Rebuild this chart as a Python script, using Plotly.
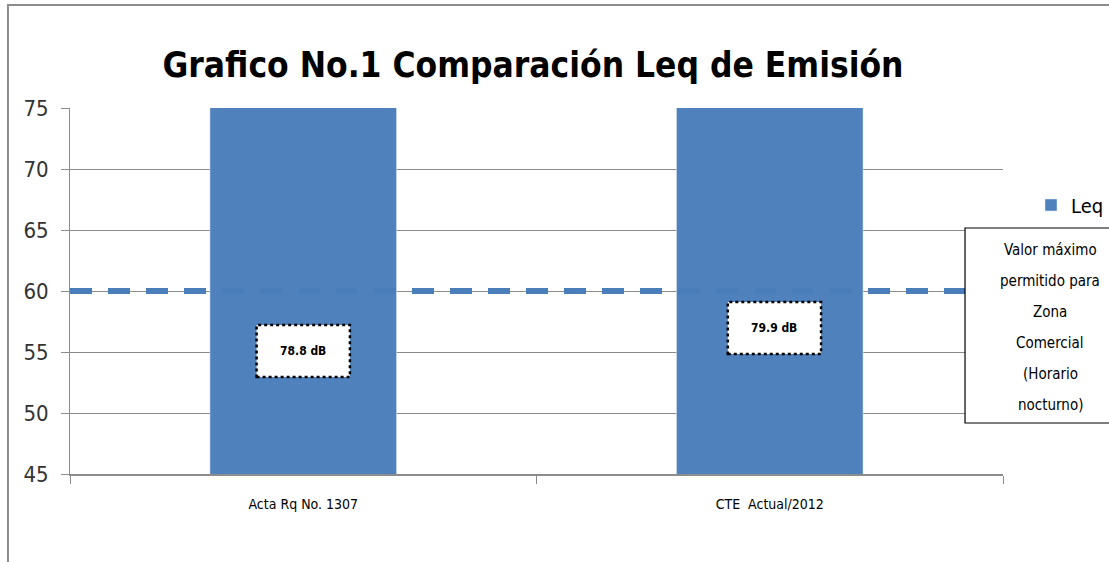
import plotly.graph_objects as go

categories = ["Acta Rq No. 1307", "CTE  Actual/2012"]
leq_values = [78.8, 79.9]
label_texts = ["78.8 dB", "79.9 dB"]
limit_value = 60
limit_note = ["Valor máximo", "permitido para", "Zona", "Comercial", "(Horario", "nocturno)"]
y_ticks = [45, 50, 55, 60, 65, 70, 75]

FONT = "DejaVu Sans Condensed, Liberation Sans, sans-serif"
BLUE = "#4F81BD"

fig = go.Figure()
fig.add_trace(go.Bar(x=categories, y=leq_values, name="Leq", marker_color=BLUE,
                     width=0.4, showlegend=True, hoverinfo="skip"))

label_y = [(52.95, 57.21), (54.84, 59.10)]
label_dx = [0.0, 0.01]
shapes = []
annotations = []
for i, (txt, (y0, y1), dx) in enumerate(zip(label_texts, label_y, label_dx)):
    shapes.append(dict(type="rect", xref="x", yref="y", x0=i + dx - 0.1, x1=i + dx + 0.1,
                       y0=y0, y1=y1, fillcolor="white",
                       line=dict(color="black", width=2.5, dash="dot"), layer="above"))
    annotations.append(dict(x=i + dx, y=(y0 + y1) / 2, xref="x", yref="y", text="<b>" + txt + "</b>",
                            showarrow=False, font=dict(family=FONT, size=12, color="black")))

shapes.append(dict(type="line", xref="paper", yref="y", x0=0, x1=1, y0=limit_value, y1=limit_value,
                   line=dict(color="#4A7EBB", width=6, dash="22px,16px"), layer="above"))

bx0, bx1, by0, by1 = 0.9593, 1.1415, 0.1393, 0.6721
shapes.append(dict(type="rect", xref="paper", yref="paper", x0=bx0, x1=bx1, y0=by0, y1=by1,
                   fillcolor="white", line=dict(color="black", width=1.2), layer="above"))
line_step = 31 / 366
top_line_y = (474 - 250) / 366
for k, line in enumerate(limit_note):
    annotations.append(dict(x=(bx0 + bx1) / 2, y=top_line_y - k * line_step, xref="paper", yref="paper",
                            text=line, showarrow=False, xanchor="center", yanchor="middle",
                            font=dict(family=FONT, size=15, color="black")))

shapes.append(dict(type="rect", xref="paper", yref="paper", x0=-0.0665, x1=1.2, y0=-0.4, y1=1.2814,
                   line=dict(color="#8c8c8c", width=2), fillcolor="rgba(0,0,0,0)", layer="above"))

fig.update_layout(
    width=1109, height=562,
    margin=dict(l=70, r=106, t=108, b=88, autoexpand=False),
    paper_bgcolor="white", plot_bgcolor="white",
    title=dict(text="<b>Grafico No.1 Comparación Leq de Emisión</b>", x=0.4806, xanchor="center",
               y=0.885, yanchor="middle", font=dict(family=FONT, size=35, color="black")),
    font=dict(family=FONT, color="black"),
    shapes=shapes, annotations=annotations,
    legend=dict(x=1.03, y=0.735, xanchor="left", yanchor="middle", font=dict(family=FONT, size=20),
                bgcolor="rgba(0,0,0,0)", itemwidth=30),
)
fig.update_yaxes(range=[45, 75], tickvals=y_ticks, showgrid=True, gridcolor="#8c8c8c", gridwidth=1,
                 showline=True, linecolor="#8c8c8c", ticks="outside", ticklen=8, tickcolor="#8c8c8c",
                 ticklabelstandoff=8,
                 tickfont=dict(family=FONT, size=22, color="#333333"), zeroline=False)
fig.update_xaxes(showline=True, linecolor="#8c8c8c", linewidth=1.5, ticks="outside", ticklen=8,
                 tickcolor="#8c8c8c", tickson="boundaries", ticklabelstandoff=16,
                 tickfont=dict(family=FONT, size=14, color="black"))

fig.write_html("out.html", config={"displayModeBar": False},
               post_script="document.body.style.margin='0';")
